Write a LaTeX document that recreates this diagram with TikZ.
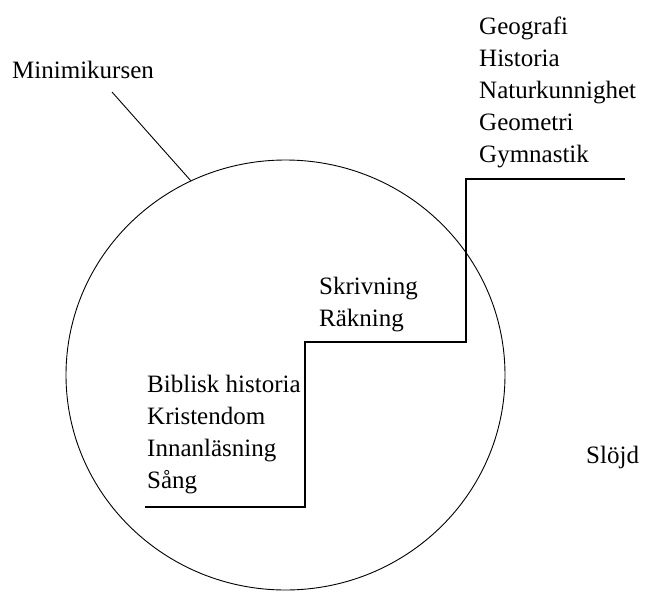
\documentclass[tikz,border=0pt]{standalone}
\usepackage{fontspec}
\setmainfont{Liberation Serif}
\usetikzlibrary{shapes.geometric}

\tikzset{
  subj/.style={font=\fontsize{25}{32}\selectfont, inner sep=0pt, align=left, anchor=base west},
  trappa/.style={line width=1.4pt},
}

\begin{document}
\begin{tikzpicture}[x=1pt,y=-1pt]
\useasboundingbox (0,0) rectangle (646,592);
\coordinate[] (M) at (285.5,375);
\node[draw, line width=0.9pt, ellipse, inner sep=0pt, minimum width=439, minimum height=430] (ring) at (M) {};
\coordinate[] (P) at (112,92);
\coordinate[] (S0) at (145,507);
\coordinate[] (S1) at (305,507);
\coordinate[] (S2) at (305,342);
\coordinate[] (S3) at (466,342);
\coordinate[] (S4) at (466,179);
\coordinate[] (S5) at (625,179);
% base = baseline of the last line
\node[subj] (mini) at (12,78) {Minimikursen};
\node[subj] (geo) at (479,162) {Geografi\\Historia\\Naturkunnighet\\Geometri\\Gymnastik};
\node[subj] (skriv) at (319,326) {Skrivning\\Räkning};
\node[subj] (bibl) at (147,488) {Biblisk historia\\Kristendom\\Innanläsning\\Sång};
\node[subj] (slojd) at (586,463) {Slöjd};
\draw [line width=0.9pt] (P) -- (ring.116);
\draw [trappa] (S0) -- (S1) -- (S2) -- (S3) -- (S4) -- (S5);
\end{tikzpicture}
\end{document}
